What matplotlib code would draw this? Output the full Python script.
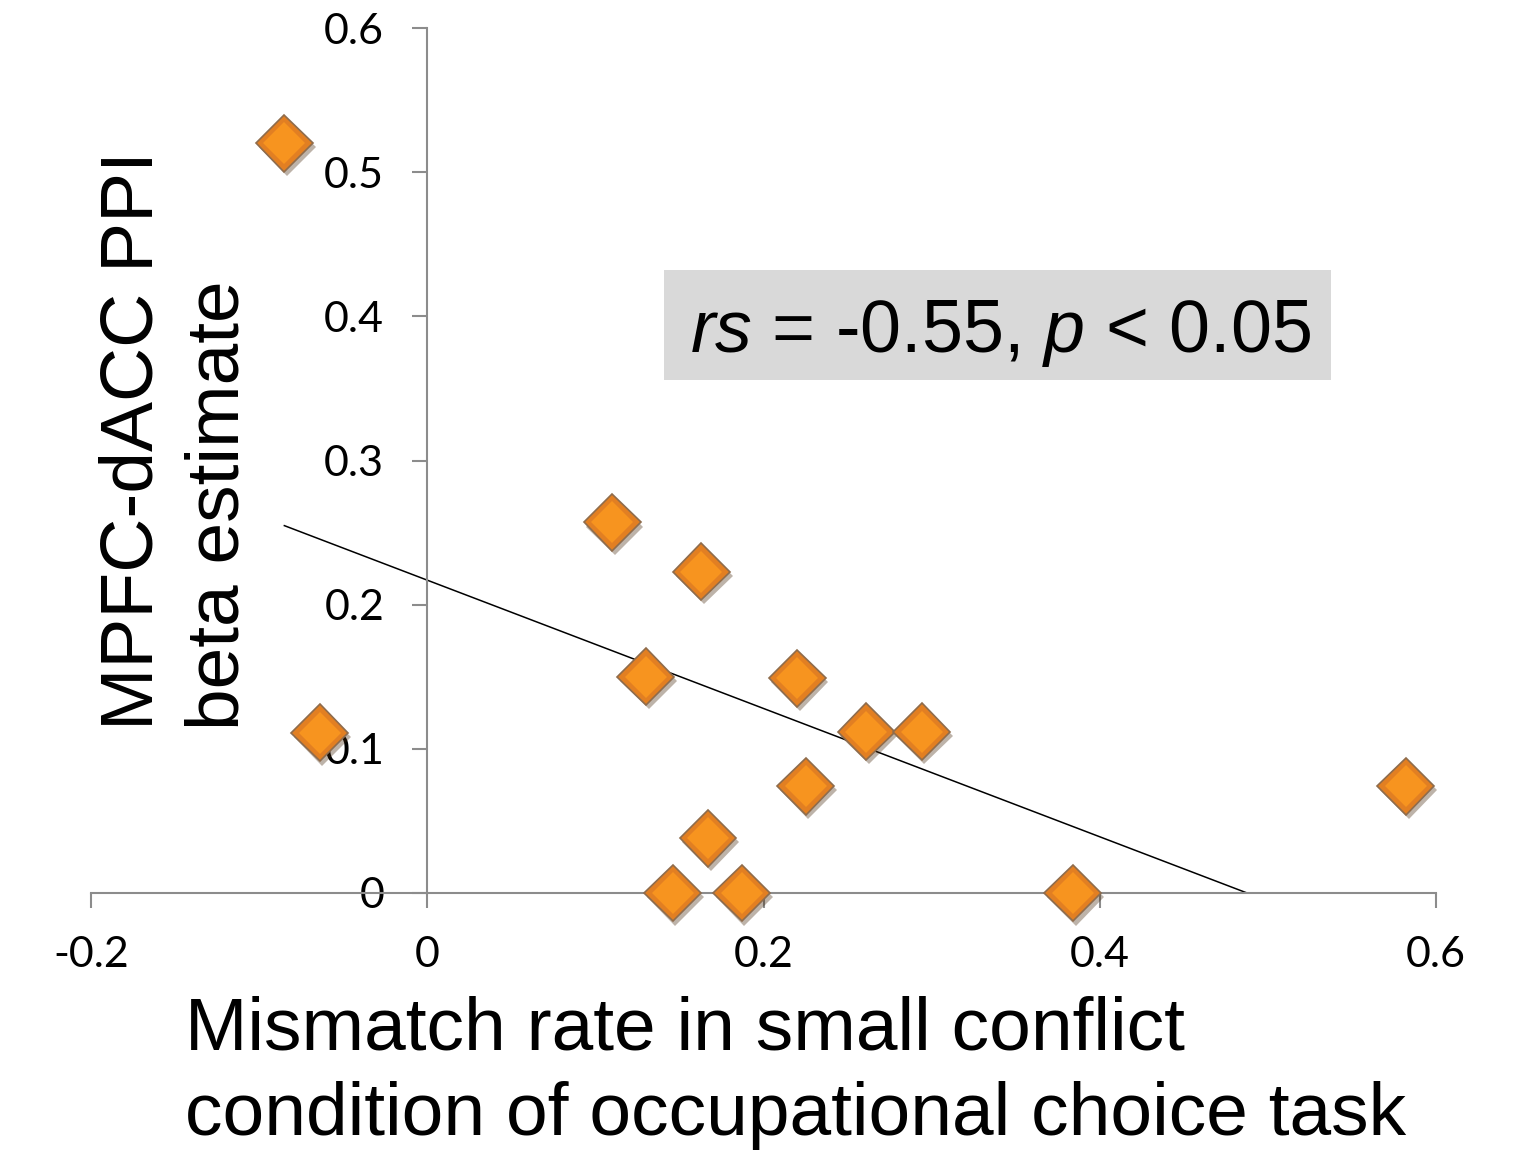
import numpy as np
import matplotlib.pyplot as plt
import matplotlib.patheffects as pe
from matplotlib.patches import Rectangle

plt.rcParams['font.family'] = ['Liberation Sans', 'DejaVu Sans']
plt.rcParams['mathtext.fontset'] = 'custom'
plt.rcParams['mathtext.rm'] = 'Liberation Sans'
plt.rcParams['mathtext.it'] = 'Liberation Sans:italic'

# data
mismatch = [-0.085, -0.064, 0.110, 0.163, 0.130, 0.220, 0.261, 0.294,
            0.225, 0.167, 0.146, 0.187, 0.384, 0.582]
beta = [0.520, 0.111, 0.257, 0.223, 0.150, 0.149, 0.112, 0.112,
        0.074, 0.038, 0.0, 0.0, 0.0, 0.074]
trend_slope = -0.445
trend_intercept = 0.217
xticks = [-0.2, 0, 0.2, 0.4, 0.6]
yticks = [0, 0.1, 0.2, 0.3, 0.4, 0.5, 0.6]
stat_text = r'$\mathit{rs}$ = -0.55, $\mathit{p}$ < 0.05'

W, H = 1531, 1160
fig = plt.figure(figsize=(W / 100, H / 100), dpi=100)
ax = fig.add_axes([91 / W, (H - 893) / H, (1436 - 91) / W, (893 - 28) / H])
ax.set_xlim(-0.2, 0.6)
ax.set_ylim(0, 0.6)

# axes cross at the origin
ax.spines['left'].set_position(('data', 0))
ax.spines['bottom'].set_position(('data', 0))
ax.spines['top'].set_visible(False)
ax.spines['right'].set_visible(False)
for s in ['left', 'bottom']:
    ax.spines[s].set_color('#8c8c8c')
    ax.spines[s].set_linewidth(1.5)

ax.set_xticks(xticks)
ax.set_xticklabels(['-0.2', '0', '0.2', '0.4', '0.6'])
ax.set_yticks(yticks)
ax.set_yticklabels(['0', '0.1', '0.2', '0.3', '0.4', '0.5', '0.6'])
ax.tick_params(direction='out', length=11, width=1.5, color='#8c8c8c',
               labelsize=31, pad=20)
for lab in ax.get_xticklabels() + ax.get_yticklabels():
    lab.set_family(['Lato', 'DejaVu Sans'])

# trendline
xs = np.array([min(mismatch), max(mismatch)])
ax.plot(xs, trend_slope * xs + trend_intercept, color='black', lw=1.1, zorder=2)

# diamond markers with a little bevel and shadow
ax.plot(mismatch, beta, linestyle='none', marker='D', markersize=29,
        markerfacecolor='#e27f22', markeredgecolor='#8f6c4c',
        markeredgewidth=1.2, clip_on=False, zorder=3,
        path_effects=[pe.SimplePatchShadow(offset=(2, -3), alpha=0.35),
                      pe.Normal()])
ax.plot(mismatch, beta, linestyle='none', marker='D', markersize=21,
        markerfacecolor='#f7941f', markeredgewidth=0, clip_on=False, zorder=4)

# stats box
fig.patches.append(Rectangle((664 / W, 1 - 380 / H), (1331 - 664) / W,
                             (380 - 270) / H, transform=fig.transFigure,
                             facecolor='#d9d9d9', edgecolor='none', zorder=1))
fig.text(690 / W, 1 - 352 / H, stat_text, fontsize=53, ha='left',
         va='baseline', zorder=5)

# axis titles
fig.text(176 / W, 1 - 730 / H, 'MPFC-dACC PPI\nbeta estimate', rotation=90,
         fontsize=54, ha='center', va='bottom', multialignment='left',
         linespacing=1.3)
fig.text(185 / W, 1 - 996 / H,
         'Mismatch rate in small conflict\ncondition of occupational choice task',
         fontsize=54, ha='left', va='top', multialignment='left',
         linespacing=1.3)

fig.savefig('out.png', dpi=100)
